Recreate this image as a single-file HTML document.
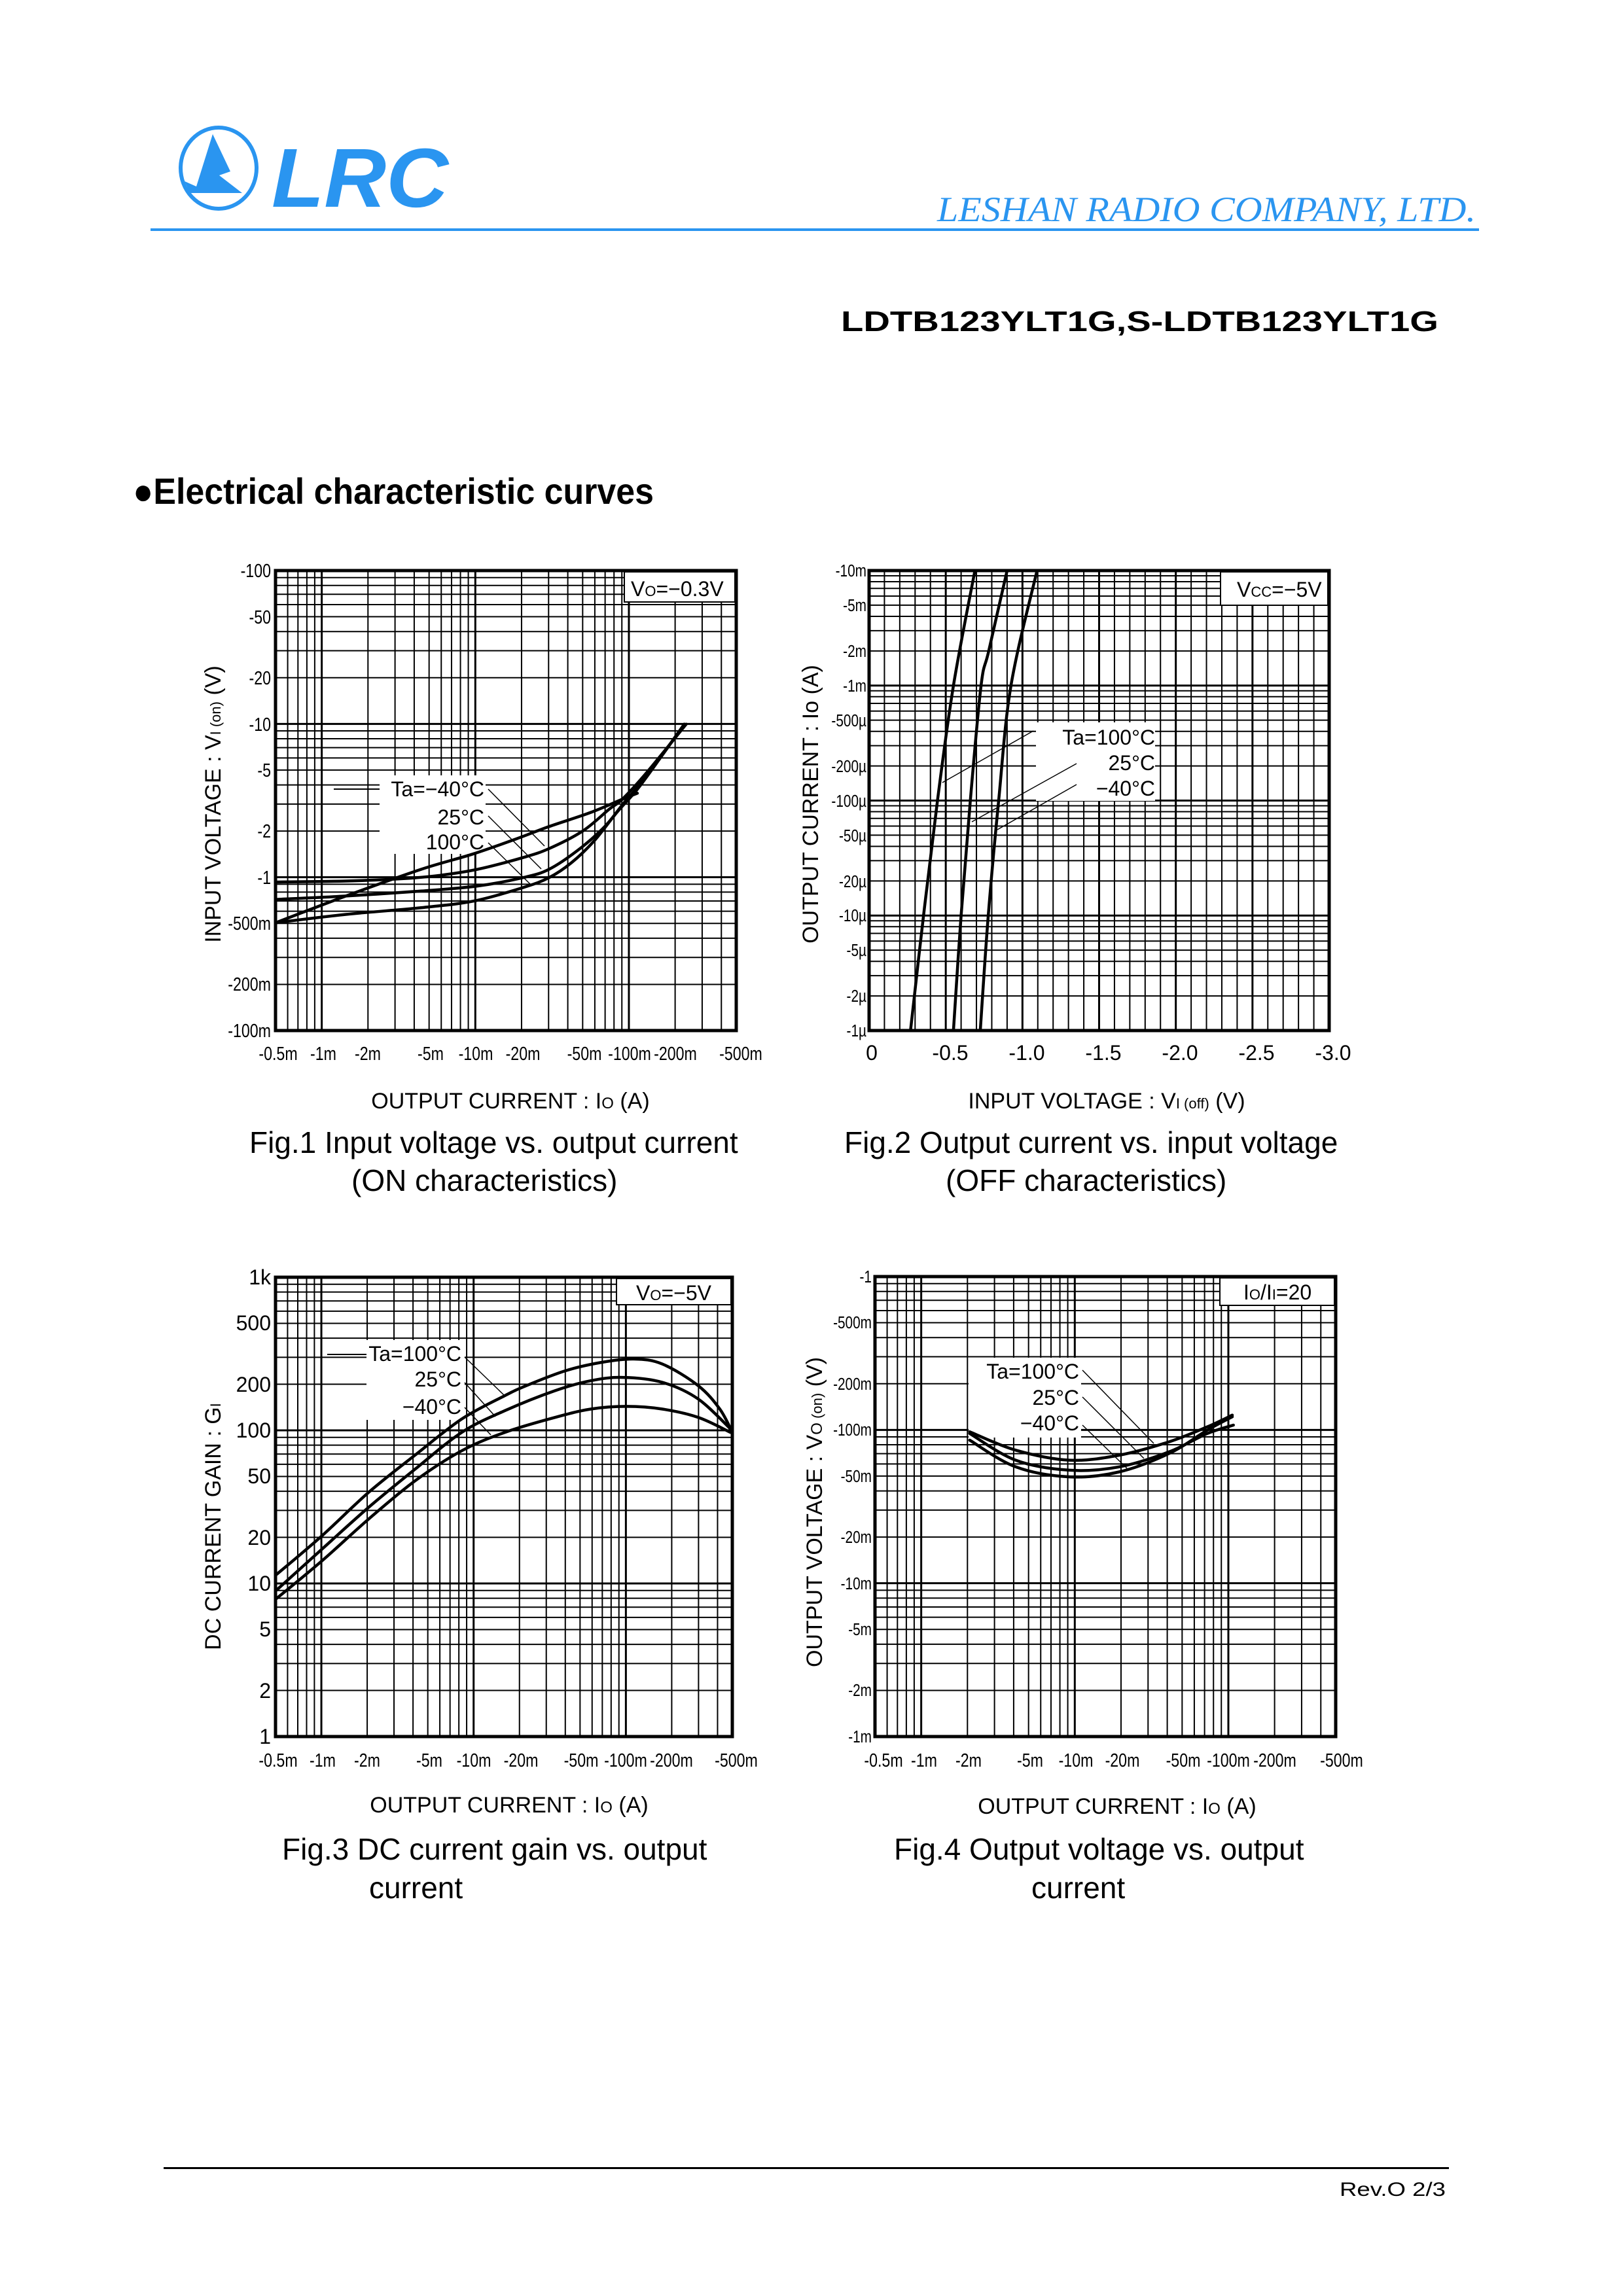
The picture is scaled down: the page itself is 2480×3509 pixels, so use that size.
<!DOCTYPE html>
<html><head><meta charset="utf-8"><style>
html,body{margin:0;padding:0;background:#fff}
svg{display:block}
text{font-family:"Liberation Sans",sans-serif;fill:#000}
.n{font-size:29px}
.m{font-size:32px}
.t{font-size:34px}
.c{font-size:46px}
</style></head><body>
<svg id="s" width="2480" height="3509" viewBox="0 0 2480 3509" xmlns="http://www.w3.org/2000/svg">
<rect width="2480" height="3509" fill="#fff"/>
<g>
<ellipse cx="334" cy="257" rx="58" ry="62" fill="none" stroke="#2a95f0" stroke-width="6"/>
<polygon points="325,205 352,262 335,268 370,295 290,295 282,277 300,285" fill="#2a95f0"/>
<text x="415" y="316" style="font-size:128px;font-weight:bold;font-style:italic;fill:#2a95f0" textLength="270" lengthAdjust="spacingAndGlyphs">LRC</text>
<text x="1432" y="338" style="font-family:'Liberation Serif',serif;font-size:54px;font-style:italic;fill:#2a95f0" textLength="823" lengthAdjust="spacingAndGlyphs">LESHAN RADIO COMPANY, LTD.</text>
<rect x="230" y="349" width="2030" height="4" fill="#2a95f0"/>
<text x="1285" y="506" style="font-size:44px;font-weight:bold" textLength="913" lengthAdjust="spacingAndGlyphs">LDTB123YLT1G,S-LDTB123YLT1G</text>
<text x="203" y="770" style="font-size:56px;font-weight:bold" textLength="796" lengthAdjust="spacingAndGlyphs">●Electrical characteristic curves</text>
<rect x="250" y="3312" width="1964" height="3" fill="#000"/>
<text x="2047" y="3356" style="font-size:30px" textLength="162" lengthAdjust="spacingAndGlyphs">Rev.O  2/3</text>
</g>
<g id="grids"></g>
<g id="labels">
<rect x="954" y="874" width="169" height="46" fill="#fff" stroke="#000" stroke-width="2"/>
<text class="m" x="964" y="911">V<tspan font-size="22">O</tspan>=−0.3V</text>
<rect x="580" y="1185" width="162" height="120" fill="#fff"/>
<line x1="510" y1="1206" x2="580" y2="1206" stroke="#000" stroke-width="2"/>
<text class="m" x="740" y="1217" text-anchor="end">Ta=−40°C</text>
<text class="m" x="740" y="1260" text-anchor="end">25°C</text>
<text class="m" x="740" y="1298" text-anchor="end">100°C</text>
<g stroke="#000" stroke-width="1.5"><line x1="746" y1="1206" x2="832" y2="1293"/><line x1="746" y1="1247" x2="827" y2="1328"/><line x1="746" y1="1288" x2="811" y2="1352"/></g>
<g class="n nar" text-anchor="end">
<text x="414" y="882">-100</text><text x="414" y="953">-50</text><text x="414" y="1046">-20</text><text x="414" y="1117">-10</text><text x="414" y="1187">-5</text><text x="414" y="1280">-2</text><text x="414" y="1351">-1</text><text x="414" y="1421">-500m</text><text x="414" y="1514">-200m</text><text x="414" y="1585">-100m</text>
</g>
<g class="n nar" text-anchor="middle">
<text x="425" y="1620">-0.5m</text><text x="494" y="1620">-1m</text><text x="562" y="1620">-2m</text><text x="658" y="1620">-5m</text><text x="727" y="1620">-10m</text><text x="799" y="1620">-20m</text><text x="893" y="1620">-50m</text><text x="962" y="1620">-100m</text><text x="1032" y="1620">-200m</text><text x="1132" y="1620">-500m</text>
</g>
<text class="t" x="780" y="1694" text-anchor="middle">OUTPUT  CURRENT : I<tspan font-size="24">O</tspan> (A)</text>
<text class="t" transform="translate(337,1229) rotate(-90)" text-anchor="middle">INPUT  VOLTAGE : V<tspan font-size="22">I (on)</tspan> (V)</text>
<text class="c" x="381" y="1762">Fig.1  Input voltage vs. output current</text>
<text class="c" x="537" y="1820">(ON characteristics)</text>

<rect x="1865" y="874" width="164" height="51" fill="#fff" stroke="#000" stroke-width="2"/>
<text class="m" x="1890" y="912">V<tspan font-size="22">CC</tspan>=−5V</text>
<rect x="1583" y="1104" width="182" height="120" fill="#fff"/>
<text class="m" x="1765" y="1138" text-anchor="end">Ta=100°C</text>
<text class="m" x="1765" y="1177" text-anchor="end">25°C</text>
<text class="m" x="1765" y="1216" text-anchor="end">−40°C</text>
<g stroke="#000" stroke-width="1.5"><line x1="1579" y1="1117" x2="1440" y2="1196"/><line x1="1645" y1="1167" x2="1485" y2="1256"/><line x1="1645" y1="1199" x2="1524" y2="1268"/></g>
<g class="n nar" text-anchor="end" style="font-size:26px">
<text x="1324" y="881">-10m</text><text x="1324" y="934">-5m</text><text x="1324" y="1004">-2m</text><text x="1324" y="1057">-1m</text><text x="1324" y="1110">-500µ</text><text x="1324" y="1180">-200µ</text><text x="1324" y="1233">-100µ</text><text x="1324" y="1286">-50µ</text><text x="1324" y="1356">-20µ</text><text x="1324" y="1408">-10µ</text><text x="1324" y="1461">-5µ</text><text x="1324" y="1531">-2µ</text><text x="1324" y="1584">-1µ</text>
</g>
<g class="m" text-anchor="middle">
<text x="1332" y="1620">0</text><text x="1452" y="1620">-0.5</text><text x="1569" y="1620">-1.0</text><text x="1686" y="1620">-1.5</text><text x="1803" y="1620">-2.0</text><text x="1920" y="1620">-2.5</text><text x="2037" y="1620">-3.0</text>
</g>
<text class="t" x="1691" y="1694" text-anchor="middle">INPUT  VOLTAGE : V<tspan font-size="22">I (off)</tspan> (V)</text>
<text class="t" transform="translate(1250,1229) rotate(-90)" text-anchor="middle">OUTPUT  CURRENT : Io  (A)</text>
<text class="c" x="1290" y="1762">Fig.2  Output current vs. input voltage</text>
<text class="c" x="1445" y="1820">(OFF characteristics)</text>

<rect x="942" y="1954" width="175" height="40" fill="#fff" stroke="#000" stroke-width="2"/>
<text class="m" x="972" y="1987">V<tspan font-size="22">O</tspan>=−5V</text>
<rect x="560" y="2048" width="150" height="122" fill="#fff"/>
<line x1="500" y1="2070" x2="560" y2="2070" stroke="#000" stroke-width="2"/>
<text class="m" x="705" y="2080" text-anchor="end">Ta=100°C</text>
<text class="m" x="705" y="2119" text-anchor="end">25°C</text>
<text class="m" x="705" y="2161" text-anchor="end">−40°C</text>
<g stroke="#000" stroke-width="1.5"><line x1="710" y1="2074" x2="771" y2="2133"/><line x1="710" y1="2113" x2="757" y2="2165"/><line x1="710" y1="2151" x2="750" y2="2193"/></g>
<g class="m" text-anchor="end">
<text x="414" y="1963">1k</text><text x="414" y="2033">500</text><text x="414" y="2127">200</text><text x="414" y="2197">100</text><text x="414" y="2267">50</text><text x="414" y="2361">20</text><text x="414" y="2431">10</text><text x="414" y="2501">5</text><text x="414" y="2595">2</text><text x="414" y="2665">1</text>
</g>
<g class="n nar" text-anchor="middle">
<text x="425" y="2700">-0.5m</text><text x="493" y="2700">-1m</text><text x="561" y="2700">-2m</text><text x="656" y="2700">-5m</text><text x="724" y="2700">-10m</text><text x="796" y="2700">-20m</text><text x="888" y="2700">-50m</text><text x="956" y="2700">-100m</text><text x="1026" y="2700">-200m</text><text x="1125" y="2700">-500m</text>
</g>
<text class="t" x="778" y="2770" text-anchor="middle">OUTPUT  CURRENT : I<tspan font-size="24">O</tspan> (A)</text>
<text class="t" transform="translate(337,2333) rotate(-90)" text-anchor="middle">DC  CURRENT  GAIN : G<tspan font-size="22">I</tspan></text>
<text class="c" x="431" y="2842">Fig.3  DC current gain vs. output</text>
<text class="c" x="564" y="2901">current</text>

<rect x="1864" y="1953" width="175" height="42" fill="#fff" stroke="#000" stroke-width="2"/>
<text class="m" x="1900" y="1986">I<tspan font-size="22">O</tspan>/I<tspan font-size="22">I</tspan>=20</text>
<rect x="1480" y="2075" width="172" height="122" fill="#fff"/>
<text class="m" x="1649" y="2107" text-anchor="end">Ta=100°C</text>
<text class="m" x="1649" y="2147" text-anchor="end">25°C</text>
<text class="m" x="1649" y="2186" text-anchor="end">−40°C</text>
<g stroke="#000" stroke-width="1.5"><line x1="1654" y1="2094" x2="1763" y2="2206"/><line x1="1654" y1="2135" x2="1748" y2="2229"/><line x1="1654" y1="2178" x2="1722" y2="2244"/></g>
<g class="n nar" text-anchor="end" style="font-size:26px">
<text x="1332" y="1960">-1</text><text x="1332" y="2030">-500m</text><text x="1332" y="2124">-200m</text><text x="1332" y="2194">-100m</text><text x="1332" y="2265">-50m</text><text x="1332" y="2358">-20m</text><text x="1332" y="2429">-10m</text><text x="1332" y="2499">-5m</text><text x="1332" y="2592">-2m</text><text x="1332" y="2663">-1m</text>
</g>
<g class="n nar" text-anchor="middle">
<text x="1350" y="2700">-0.5m</text><text x="1412" y="2700">-1m</text><text x="1480" y="2700">-2m</text><text x="1574" y="2700">-5m</text><text x="1644" y="2700">-10m</text><text x="1715" y="2700">-20m</text><text x="1808" y="2700">-50m</text><text x="1877" y="2700">-100m</text><text x="1948" y="2700">-200m</text><text x="2050" y="2700">-500m</text>
</g>
<text class="t" x="1707" y="2772" text-anchor="middle">OUTPUT  CURRENT : I<tspan font-size="24">O</tspan>  (A)</text>
<text class="t" transform="translate(1256,2311) rotate(-90)" text-anchor="middle">OUTPUT  VOLTAGE : V<tspan font-size="24">O</tspan><tspan font-size="22"> (on)</tspan> (V)</text>
<text class="c" x="1366" y="2842">Fig.4  Output voltage vs. output</text>
<text class="c" x="1576" y="2901">current</text>
</g>
<g id="curves" fill="none" stroke="#000" stroke-width="4.5" stroke-linejoin="round" stroke-linecap="round"></g>
</svg>
<script>
var NS="http://www.w3.org/2000/svg";
var G=document.getElementById('grids'),C=document.getElementById('curves');
function el(p,t,a){var e=document.createElementNS(NS,t);for(var k in a)e.setAttribute(k,a[k]);p.appendChild(e);return e;}
function logPos(lo,hi){var r=[];for(var e=-7;e<=3;e++)for(var k=1;k<=9;k++){var v=k*Math.pow(10,e);if(v>=lo*0.999&&v<=hi*1.001)r.push([Math.log10(v/lo)/Math.log10(hi/lo),k==1?3:2]);}return r;}
function linPos(n){var r=[];for(var i=0;i<=n;i++)r.push([i/n,i%5==0?3:2]);return r;}
function grid(x0,y0,x1,y1,xs,ys){
 xs.forEach(function(p){var x=x0+p[0]*(x1-x0);el(G,'line',{x1:x,y1:y0,x2:x,y2:y1,stroke:'#000','stroke-width':p[1]});});
 ys.forEach(function(p){var y=y1-p[0]*(y1-y0);el(G,'line',{x1:x0,y1:y,x2:x1,y2:y,stroke:'#000','stroke-width':p[1]});});
 el(G,'rect',{x:x0,y:y0,width:x1-x0,height:y1-y0,fill:'none',stroke:'#000','stroke-width':5});
}
grid(421,872,1125,1575,logPos(0.5e-3,0.5),logPos(0.1,100));
grid(1328,872,2031,1575,linPos(30),logPos(1e-6,1e-2));
grid(421,1952,1119,2654,logPos(0.5e-3,0.5),logPos(1,1000));
grid(1337,1951,2041,2654,logPos(0.5e-3,0.5),logPos(1e-3,1));
function path(pts){
 var d='M'+pts[0][0].toFixed(1)+','+pts[0][1].toFixed(1);
 for(var i=0;i<pts.length-1;i++){var p0=pts[Math.max(0,i-1)],p1=pts[i],p2=pts[i+1],p3=pts[Math.min(pts.length-1,i+2)];
  var c1=[p1[0]+(p2[0]-p0[0])/6,p1[1]+(p2[1]-p0[1])/6],c2=[p2[0]-(p3[0]-p1[0])/6,p2[1]-(p3[1]-p1[1])/6];
  d+='C'+c1[0].toFixed(1)+','+c1[1].toFixed(1)+' '+c2[0].toFixed(1)+','+c2[1].toFixed(1)+' '+p2[0].toFixed(1)+','+p2[1].toFixed(1);}
 el(C,'path',{d:d});
}
function tr(pts,ox,oy,zx,zy,sx,sy){return pts.map(function(p){return [ox+(p[0]-zx)/sx,oy+(p[1]-zy)/sy];});}
var f1=[
[[213,1100],[400,1020],[600,940],[735,895],[850,850],[940,812],[1050,770],[1135,730],[1175,712]],
[[213,1030],[400,1020],[600,1005],[750,990],[870,965],[940,940],[1020,880],[1090,810],[1140,740],[1200,660],[1300,505]],
[[213,978],[400,975],[550,968],[650,958],[750,940],[870,905],[940,878],[1030,825],[1100,760],[1135,730],[1200,650],[1305,505]],
[[213,1100],[400,1075],[600,1055],[740,1035],[870,995],[940,965],[1000,920],[1060,855],[1120,770],[1175,700],[1240,600],[1300,505]]];
f1.forEach(function(c){path(tr(c,421,872,213,45,1.74,1.96));});
function m2(v,i){return [1328+v/3*703,1575-(i+6)/4*703];}
[[[0.27,-6],[0.355,-5],[0.446,-4],[0.55,-3],[0.69,-2]],
 [[0.55,-6],[0.60,-5],[0.66,-4],[0.73,-3],[0.78,-2.7],[0.90,-2]],
 [[0.725,-6],[0.777,-5],[0.845,-4],[0.925,-3],[1.095,-2]]].forEach(function(c){path(c.map(function(p){return m2(p[0],p[1]);}));});
var f3=[
[[221,938],[350,820],[480,690],[610,578],[740,470],[860,400],[920,370],[1030,325],[1130,300],[1220,290],[1300,305],[1400,370],[1460,440],[1495,510]],
[[221,985],[350,860],[480,735],[610,620],[740,510],[860,445],[1000,385],[1100,355],[1190,345],[1300,360],[1400,410],[1495,505]],
[[221,1010],[350,895],[480,770],[610,655],[740,565],[860,510],[1000,465],[1100,440],[1200,432],[1300,440],[1400,465],[1490,510]]];
f3.forEach(function(c){path(tr(c,421,1952,221,45,1.825,1.96));});
var f4=[
[[480,505],[600,560],[740,590],[870,575],[1000,535],[1100,490],[1165,455]],
[[480,510],[600,590],[740,620],[870,610],[1000,565],[1100,510],[1168,485]],
[[480,530],[600,610],[740,640],[870,625],[1000,570],[1100,500],[1165,460]]];
f4.forEach(function(c){path(tr(c,1337,1951,233,40,1.707,1.96));});
document.querySelectorAll('.nar text').forEach(function(t){var x=+t.getAttribute('x');t.setAttribute('transform','translate('+x+',0) scale(0.8,1) translate('+(-x)+',0)');});
</script>
</body></html>
